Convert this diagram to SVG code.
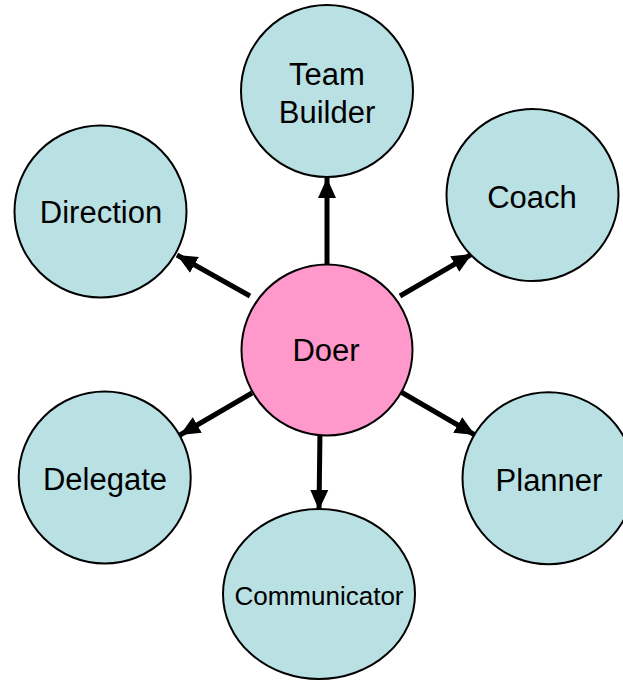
<svg xmlns="http://www.w3.org/2000/svg" width="623" height="680" viewBox="0 0 623 680">
<defs>
<style>
.n{fill:#B9E0E3;stroke:#000;stroke-width:2}
.c{fill:#FF99CC;stroke:#000;stroke-width:2}
.t{font-family:"Liberation Sans",Arial,sans-serif;font-size:31px;fill:#000;text-anchor:middle}
.e{stroke:#000;stroke-width:5;fill:none;marker-end:url(#ah)}
</style>
<marker id="ah" markerUnits="userSpaceOnUse" markerWidth="22" markerHeight="20" refX="20" refY="9" orient="auto" viewBox="0 0 22 18">
<path d="M0,0 L20,9 L0,18 Z" fill="#000"/>
</marker>
</defs>
<rect width="623" height="680" fill="#fff"/>
<g id="connectors">
<line class="e" x1="327" y1="265" x2="327" y2="178"/>
<line class="e" x1="400" y1="296" x2="472" y2="254"/>
<line class="e" x1="250" y1="296" x2="177" y2="255"/>
<line class="e" x1="252" y1="393" x2="180" y2="435"/>
<line class="e" x1="401" y1="392" x2="475" y2="435"/>
<line class="e" x1="320" y1="430" x2="319" y2="510"/>
</g>
<g id="team-builder">
<circle class="n" cx="327" cy="91" r="86"/>
<text class="t" x="327" y="85">Team</text>
<text class="t" x="327" y="123">Builder</text>
</g>
<g id="coach">
<circle class="n" cx="532.5" cy="195" r="86"/>
<text class="t" x="532" y="208">Coach</text>
</g>
<g id="direction">
<circle class="n" cx="100.5" cy="211.5" r="86"/>
<text class="t" x="101" y="223">Direction</text>
</g>
<g id="delegate">
<circle class="n" cx="104.7" cy="477.5" r="86"/>
<text class="t" x="105" y="490">Delegate</text>
</g>
<g id="planner">
<circle class="n" cx="548.5" cy="478.3" r="86"/>
<text class="t" x="549" y="491">Planner</text>
</g>
<g id="communicator">
<ellipse class="n" cx="319" cy="594" rx="96" ry="85"/>
<text class="t" x="319" y="605" style="font-size:26px">Communicator</text>
</g>
<g id="doer">
<circle class="c" cx="327" cy="350" r="85.5"/>
<text class="t" x="326" y="361">Doer</text>
</g>
</svg>
